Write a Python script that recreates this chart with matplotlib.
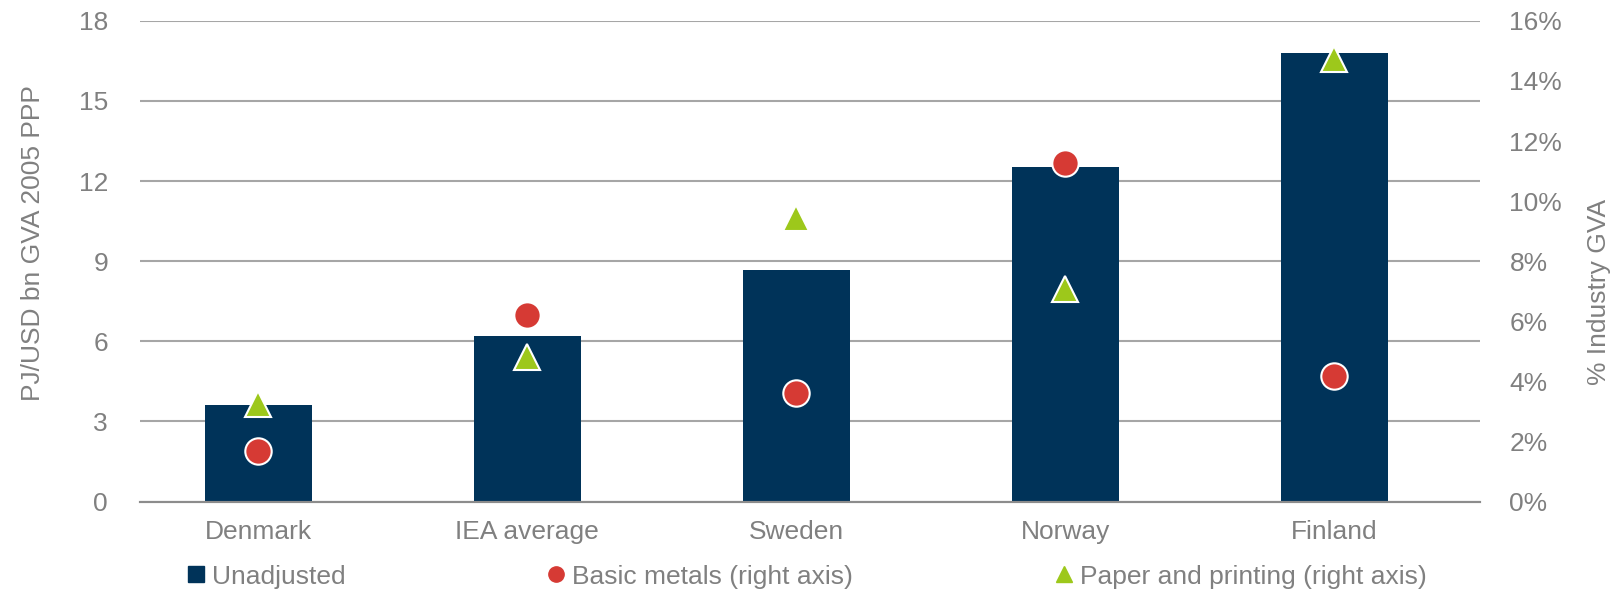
import matplotlib
matplotlib.use("Agg")
import matplotlib.pyplot as plt
from matplotlib.lines import Line2D
from matplotlib.ticker import FuncFormatter

plt.rcParams["font.family"] = ["Liberation Sans", "DejaVu Sans"]

# Intensidad energetica y peso de cada sector en el VAB industrial
paises = ["Denmark", "IEA average", "Sweden", "Norway", "Finland"]
sin_ajustar = [3.63, 6.2, 8.67, 12.54, 16.81]
metales_basicos = [1.67, 6.22, 3.62, 11.26, 4.17]
papel_impresion = [3.26, 4.82, 9.45, 7.07, 14.74]

azul = "#003359"
rojo = "#d63a34"
verde = "#9dc81b"
gris_texto = "#808080"
gris_grilla = "#a6a6a6"
tam = 19

fig = plt.figure(figsize=(16.16, 5.95), dpi=100)
ax = fig.add_axes([0.0866, 0.157, 0.829, 0.808])
ax2 = ax.twinx()

x = list(range(len(paises)))
ax.bar(x, sin_ajustar, width=0.4, color=azul, zorder=2)

ax2.plot(x, metales_basicos, linestyle="none", marker="o", markersize=19,
         markerfacecolor=rojo, markeredgecolor="white", markeredgewidth=1.5, zorder=3)
ax2.plot(x, papel_impresion, linestyle="none", marker="^", markersize=19,
         markerfacecolor=verde, markeredgecolor="white", markeredgewidth=1.5, zorder=3)

ax.set_xlim(-0.44, 4.54)
ax.set_ylim(0, 18)
ax2.set_ylim(0, 16)
ax.set_yticks(range(0, 19, 3))
ax2.set_yticks(range(0, 17, 2))
ax2.yaxis.set_major_formatter(FuncFormatter(lambda v, p: f"{v:.0f}%"))

ax.set_xticks(x)
ax.set_xticklabels(paises)

ax.grid(axis="y", color=gris_grilla, linewidth=1.5, zorder=0)
ax.set_axisbelow(True)
for a in (ax, ax2):
    for lado in ("top", "left", "right"):
        a.spines[lado].set_visible(False)
    a.spines["bottom"].set_color("#8c8c8c")
    a.spines["bottom"].set_linewidth(1.5)
    a.tick_params(length=0, labelsize=tam, labelcolor=gris_texto)
ax.tick_params(axis="y", pad=23)
ax2.tick_params(axis="y", pad=21.5)
ax.tick_params(axis="x", pad=13)

ax.set_ylabel("PJ/USD bn GVA 2005 PPP", fontsize=tam, color=gris_texto)
ax.yaxis.set_label_coords(-0.0705, 0.538)
ax2.set_ylabel("% Industry GVA", fontsize=tam, color=gris_texto)
ax2.yaxis.set_label_coords(1.080, 0.436)

handles = [
    Line2D([], [], linestyle="none", marker="s", markersize=12, color=azul),
    Line2D([], [], linestyle="none", marker="o", markersize=11, color=rojo),
    Line2D([], [], linestyle="none", marker="^", markersize=11, color=verde),
]
etiquetas = ["Unadjusted", "Basic metals (right axis)", "Paper and printing (right axis)"]
fig.legend(handles, etiquetas, loc="center left", bbox_to_anchor=(0.1163, 0.031),
           ncol=3, frameon=False, fontsize=tam, labelcolor=gris_texto,
           handlelength=0.6, handletextpad=0.3, columnspacing=7.7, borderpad=0,
           borderaxespad=0)

fig.savefig("out.png", dpi=100)
